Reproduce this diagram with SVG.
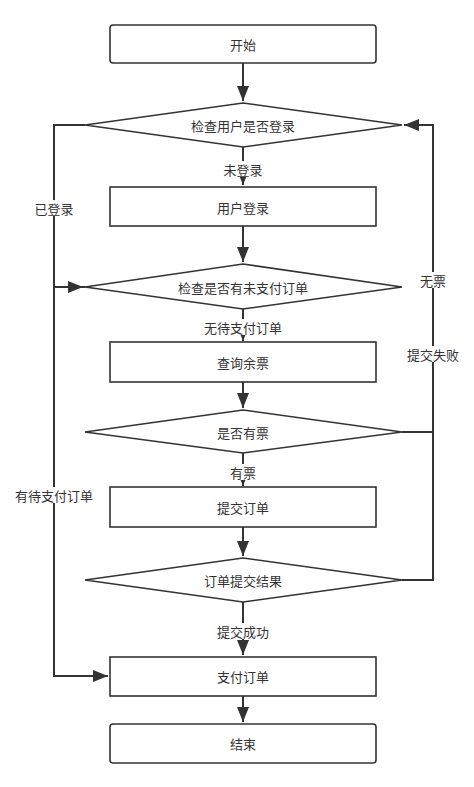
<svg xmlns="http://www.w3.org/2000/svg" width="474" height="787" viewBox="0 0 474 787">
<style>
.n{fill:#fff;stroke:#333;stroke-width:1.6}
.t{font-family:"Noto Sans CJK SC","Noto Sans",sans-serif;font-size:13px;fill:#333;text-anchor:middle;dominant-baseline:central}
.c{fill:none;stroke:#333;stroke-width:2}
.bg{fill:#fff}
</style>
<defs>
<marker id="a" markerUnits="userSpaceOnUse" markerWidth="16" markerHeight="12" refX="15" refY="6" orient="auto">
<path d="M0,0 L15,6 L0,12 Z" fill="#333"/>
</marker>
</defs>
<rect width="474" height="787" fill="#fff"/>
<g id="connectors">
<path class="c" d="M243,63 V101" marker-end="url(#a)"/>
<path class="c" d="M243,147 V185" marker-end="url(#a)"/>
<path class="c" d="M243,226 V262" marker-end="url(#a)"/>
<path class="c" d="M85,125 H54 V287 H83" marker-end="url(#a)"/>
<path class="c" d="M85,287 H54 V676 H108" marker-end="url(#a)"/>
<path class="c" d="M243,309 V341" marker-end="url(#a)"/>
<path class="c" d="M243,382 V408" marker-end="url(#a)"/>
<path class="c" d="M243,453 V486" marker-end="url(#a)"/>
<path class="c" d="M243,527 V556" marker-end="url(#a)"/>
<path class="c" d="M243,602 V655" marker-end="url(#a)"/>
<path class="c" d="M243,696 V722" marker-end="url(#a)"/>
<path class="c" d="M402,432 H433"/>
<path class="c" d="M402,580 H433 V125 H404" marker-end="url(#a)"/>
<rect class="bg" x="223" y="161" width="40" height="16"/>
<text class="t" x="243" y="169">未登录</text>
<rect class="bg" x="34" y="200" width="40" height="16"/>
<text class="t" x="54" y="208">已登录</text>
<rect class="bg" x="204" y="319" width="78" height="16"/>
<text class="t" x="243" y="327">无待支付订单</text>
<rect class="bg" x="229" y="464" width="28" height="16"/>
<text class="t" x="243" y="472">有票</text>
<rect class="bg" x="16" y="487" width="77" height="16"/>
<text class="t" x="54" y="495">有待支付订单</text>
<rect class="bg" x="217" y="623" width="53" height="16"/>
<text class="t" x="243" y="631">提交成功</text>
<rect class="bg" x="419" y="272" width="28" height="16"/>
<text class="t" x="433" y="280">无票</text>
<rect class="bg" x="406" y="346" width="54" height="16"/>
<text class="t" x="433" y="354">提交失败</text>
</g>
<g id="start"><rect class="n" x="110" y="25" width="266" height="38" rx="3"/><text class="t" x="243" y="44">开始</text></g>
<g id="checkLogin"><polygon class="n" points="243,103 402,125 243,147 85,125"/><text class="t" x="243" y="125">检查用户是否登录</text></g>
<g id="login"><rect class="n" x="110" y="187" width="266" height="39"/><text class="t" x="243" y="207">用户登录</text></g>
<g id="checkUnpaid"><polygon class="n" points="243,264 402,287 243,309 85,287"/><text class="t" x="243" y="287">检查是否有未支付订单</text></g>
<g id="queryTickets"><rect class="n" x="110" y="342" width="266" height="40"/><text class="t" x="243" y="362">查询余票</text></g>
<g id="hasTickets"><polygon class="n" points="243,410 402,432 243,453 85,432"/><text class="t" x="243" y="432">是否有票</text></g>
<g id="submitOrder"><rect class="n" x="110" y="487" width="266" height="40"/><text class="t" x="243" y="507">提交订单</text></g>
<g id="submitResult"><polygon class="n" points="243,558 402,580 243,602 85,580"/><text class="t" x="243" y="580">订单提交结果</text></g>
<g id="payOrder"><rect class="n" x="110" y="657" width="266" height="39"/><text class="t" x="243" y="676">支付订单</text></g>
<g id="end"><rect class="n" x="110" y="724" width="266" height="39" rx="3"/><text class="t" x="243" y="743">结束</text></g>
</svg>
